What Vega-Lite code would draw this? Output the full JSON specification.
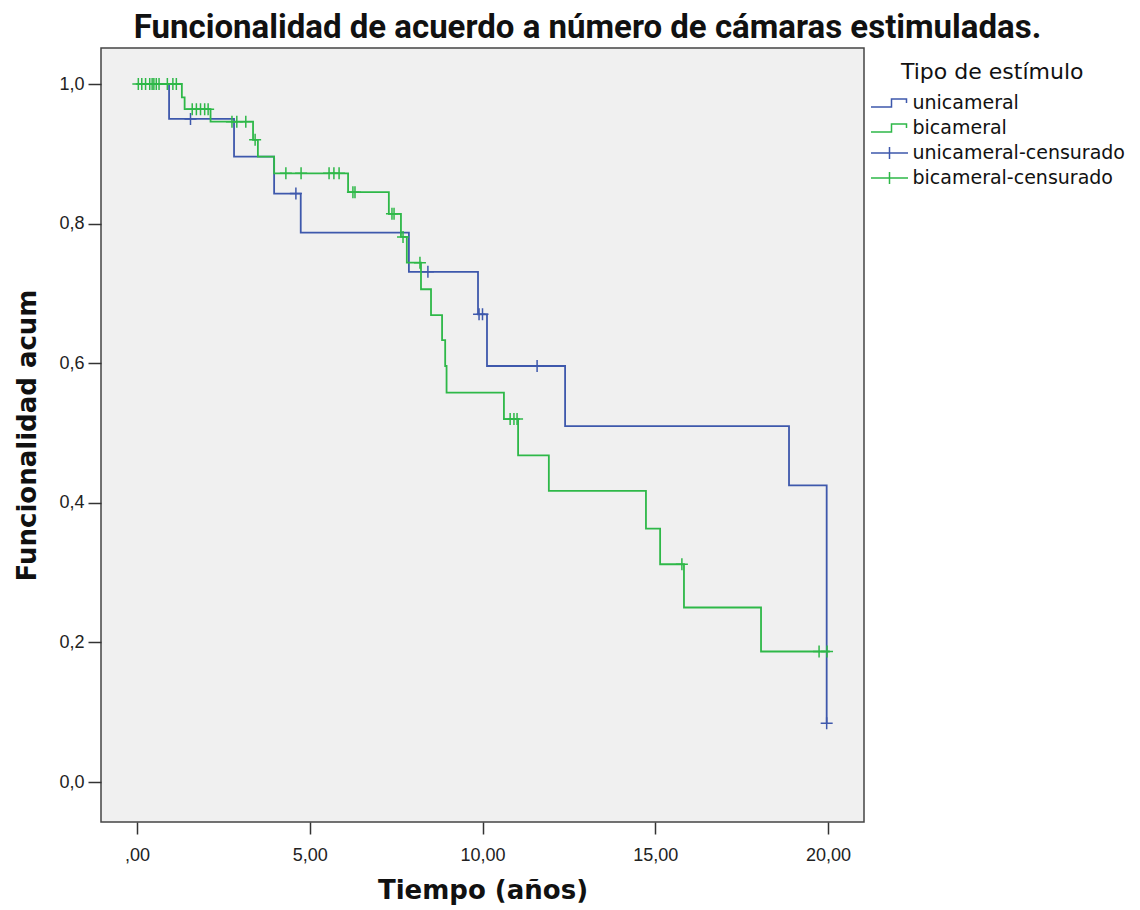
{
  "$schema": "https://vega.github.io/schema/vega-lite/v6.json",
  "width": 763,
  "height": 774,
  "autosize": {"type": "none"},
  "padding": {"left": 101, "top": 48, "right": 276, "bottom": 88},
  "background": "white",
  "config": {
    "view": {"fill": "#F0F0F0", "stroke": "#444444", "strokeWidth": 1.5}
  },
  "title": {
    "text": "Funcionalidad de acuerdo a número de cámaras estimuladas.",
    "font": "Roboto",
    "fontSize": 33,
    "fontWeight": "bold",
    "color": "#111111",
    "anchor": "middle",
    "frame": "group",
    "dx": 105,
    "offset": 3
  },
  "datasets": {
    "curvas": [
      {"serie": "unicameral", "t": 0, "s": 1.0},
      {"serie": "unicameral", "t": 0.93, "s": 0.95},
      {"serie": "unicameral", "t": 2.81, "s": 0.896},
      {"serie": "unicameral", "t": 3.97, "s": 0.843},
      {"serie": "unicameral", "t": 4.74, "s": 0.787},
      {"serie": "unicameral", "t": 7.87, "s": 0.731},
      {"serie": "unicameral", "t": 9.87, "s": 0.670},
      {"serie": "unicameral", "t": 10.13, "s": 0.596},
      {"serie": "unicameral", "t": 12.39, "s": 0.510},
      {"serie": "unicameral", "t": 18.87, "s": 0.425},
      {"serie": "unicameral", "t": 19.96, "s": 0.084},
      {"serie": "bicameral", "t": 0, "s": 1.0},
      {"serie": "bicameral", "t": 1.30, "s": 0.981},
      {"serie": "bicameral", "t": 1.38, "s": 0.964},
      {"serie": "bicameral", "t": 2.13, "s": 0.946},
      {"serie": "bicameral", "t": 3.36, "s": 0.920},
      {"serie": "bicameral", "t": 3.50, "s": 0.896},
      {"serie": "bicameral", "t": 3.97, "s": 0.872},
      {"serie": "bicameral", "t": 6.11, "s": 0.845},
      {"serie": "bicameral", "t": 7.29, "s": 0.814},
      {"serie": "bicameral", "t": 7.64, "s": 0.781},
      {"serie": "bicameral", "t": 7.81, "s": 0.744},
      {"serie": "bicameral", "t": 8.22, "s": 0.706},
      {"serie": "bicameral", "t": 8.51, "s": 0.669},
      {"serie": "bicameral", "t": 8.83, "s": 0.633},
      {"serie": "bicameral", "t": 8.92, "s": 0.596},
      {"serie": "bicameral", "t": 8.96, "s": 0.558},
      {"serie": "bicameral", "t": 10.62, "s": 0.520},
      {"serie": "bicameral", "t": 11.03, "s": 0.468},
      {"serie": "bicameral", "t": 11.92, "s": 0.417},
      {"serie": "bicameral", "t": 14.73, "s": 0.363},
      {"serie": "bicameral", "t": 15.14, "s": 0.312},
      {"serie": "bicameral", "t": 15.83, "s": 0.250},
      {"serie": "bicameral", "t": 18.06, "s": 0.187},
      {"serie": "bicameral", "t": 20.05, "s": 0.187}
    ],
    "censurados": [
      {"serie": "unicameral-censurado", "t": 1.55, "s": 0.95},
      {"serie": "unicameral-censurado", "t": 4.60, "s": 0.843},
      {"serie": "unicameral-censurado", "t": 8.42, "s": 0.731},
      {"serie": "unicameral-censurado", "t": 9.90, "s": 0.670},
      {"serie": "unicameral-censurado", "t": 10.00, "s": 0.670},
      {"serie": "unicameral-censurado", "t": 11.58, "s": 0.596},
      {"serie": "unicameral-censurado", "t": 19.96, "s": 0.084},
      {"serie": "bicameral-censurado", "t": 0.04, "s": 1.0},
      {"serie": "bicameral-censurado", "t": 0.14, "s": 1.0},
      {"serie": "bicameral-censurado", "t": 0.25, "s": 1.0},
      {"serie": "bicameral-censurado", "t": 0.37, "s": 1.0},
      {"serie": "bicameral-censurado", "t": 0.44, "s": 1.0},
      {"serie": "bicameral-censurado", "t": 0.49, "s": 1.0},
      {"serie": "bicameral-censurado", "t": 0.56, "s": 1.0},
      {"serie": "bicameral-censurado", "t": 0.64, "s": 1.0},
      {"serie": "bicameral-censurado", "t": 0.88, "s": 1.0},
      {"serie": "bicameral-censurado", "t": 1.04, "s": 1.0},
      {"serie": "bicameral-censurado", "t": 1.14, "s": 1.0},
      {"serie": "bicameral-censurado", "t": 1.60, "s": 0.964},
      {"serie": "bicameral-censurado", "t": 1.72, "s": 0.964},
      {"serie": "bicameral-censurado", "t": 1.84, "s": 0.964},
      {"serie": "bicameral-censurado", "t": 1.96, "s": 0.964},
      {"serie": "bicameral-censurado", "t": 2.06, "s": 0.964},
      {"serie": "bicameral-censurado", "t": 2.75, "s": 0.946},
      {"serie": "bicameral-censurado", "t": 2.89, "s": 0.946},
      {"serie": "bicameral-censurado", "t": 3.15, "s": 0.946},
      {"serie": "bicameral-censurado", "t": 3.42, "s": 0.920},
      {"serie": "bicameral-censurado", "t": 4.31, "s": 0.872},
      {"serie": "bicameral-censurado", "t": 4.75, "s": 0.872},
      {"serie": "bicameral-censurado", "t": 5.56, "s": 0.872},
      {"serie": "bicameral-censurado", "t": 5.70, "s": 0.872},
      {"serie": "bicameral-censurado", "t": 5.85, "s": 0.872},
      {"serie": "bicameral-censurado", "t": 6.25, "s": 0.845},
      {"serie": "bicameral-censurado", "t": 6.31, "s": 0.845},
      {"serie": "bicameral-censurado", "t": 7.38, "s": 0.814},
      {"serie": "bicameral-censurado", "t": 7.44, "s": 0.814},
      {"serie": "bicameral-censurado", "t": 7.70, "s": 0.781},
      {"serie": "bicameral-censurado", "t": 8.19, "s": 0.744},
      {"serie": "bicameral-censurado", "t": 10.80, "s": 0.520},
      {"serie": "bicameral-censurado", "t": 10.91, "s": 0.520},
      {"serie": "bicameral-censurado", "t": 11.00, "s": 0.520},
      {"serie": "bicameral-censurado", "t": 15.77, "s": 0.312},
      {"serie": "bicameral-censurado", "t": 19.74, "s": 0.187},
      {"serie": "bicameral-censurado", "t": 19.97, "s": 0.187}
    ]
  },
  "encoding": {
    "x": {
      "field": "t",
      "type": "quantitative",
      "scale": {"domain": [-1.04, 21.04], "nice": false, "zero": false},
      "axis": {
        "values": [0, 5, 10, 15, 20],
        "labelExpr": "datum.value == 0 ? ',00' : replace(format(datum.value, '.2f'), '.', ',')",
        "title": "Tiempo (años)",
        "grid": false,
        "domain": false,
        "tickSize": 12,
        "tickWidth": 1.5,
        "tickColor": "#333333",
        "labelFont": "Liberation Sans",
        "labelFontSize": 18,
        "labelColor": "#222222",
        "labelPadding": 12,
        "titleFont": "DejaVu Sans",
        "titleFontSize": 26,
        "titleFontWeight": "bold",
        "titleColor": "#111111",
        "titlePadding": 13
      }
    },
    "y": {
      "field": "s",
      "type": "quantitative",
      "scale": {"domain": [-0.0573, 1.0516], "nice": false, "zero": false},
      "axis": {
        "values": [0, 0.2, 0.4, 0.6, 0.8, 1.0],
        "labelExpr": "replace(format(datum.value, '.1f'), '.', ',')",
        "title": "Funcionalidad acum",
        "grid": false,
        "domain": false,
        "tickSize": 13,
        "tickWidth": 1.5,
        "tickColor": "#333333",
        "labelFont": "Liberation Sans",
        "labelFontSize": 18,
        "labelColor": "#222222",
        "labelPadding": 4,
        "titleFont": "DejaVu Sans",
        "titleFontSize": 26,
        "titleFontWeight": "bold",
        "titleColor": "#111111",
        "titlePadding": 18
      }
    },
    "color": {
      "field": "serie",
      "type": "nominal",
      "scale": {
        "domain": ["unicameral", "bicameral", "unicameral-censurado", "bicameral-censurado"],
        "range": ["#3E58AC", "#2EB848", "#3E58AC", "#2EB848"]
      },
      "legend": {
        "title": "Tipo de estímulo",
        "orient": "none",
        "legendX": 769,
        "legendY": 14,
        "titleFont": "DejaVu Sans",
        "titleFontSize": 22,
        "titleFontWeight": "normal",
        "titleColor": "#111111",
        "titlePadding": 8,
        "titleLimit": 400,
        "labelFont": "DejaVu Sans",
        "labelFontSize": 19,
        "labelColor": "#111111",
        "labelLimit": 400,
        "labelOffset": 12,
        "rowPadding": 4,
        "symbolSize": 400,
        "symbolStrokeWidth": 1.5,
        "symbolOffset": 8.5,
        "encode": {
          "title": {"update": {"dx": {"value": 31}}},
          "symbols": {
            "update": {
              "shape": {"signal": "indexof(datum.value, 'censurado') >= 0 ? 'M-1.85,0L1.85,0M0,-0.6L0,0.6' : 'M-1.85,0.4L0.2,0.4L0.2,-0.4L1.7,-0.4L1.7,0'"},
              "fill": {"value": "transparent"},
              "stroke": {"scale": "color", "field": "value"},
              "strokeWidth": {"value": 1.5}
            }
          }
        }
      }
    }
  },
  "layer": [
    {
      "data": {"name": "curvas"},
      "mark": {"type": "line", "interpolate": "step-after", "strokeWidth": 1.8}
    },
    {
      "data": {"name": "censurados"},
      "mark": {"type": "point", "shape": "M-1,0L1,0M0,-1L0,1", "filled": false, "size": 144, "strokeWidth": 1.5, "opacity": 1}
    }
  ]
}
